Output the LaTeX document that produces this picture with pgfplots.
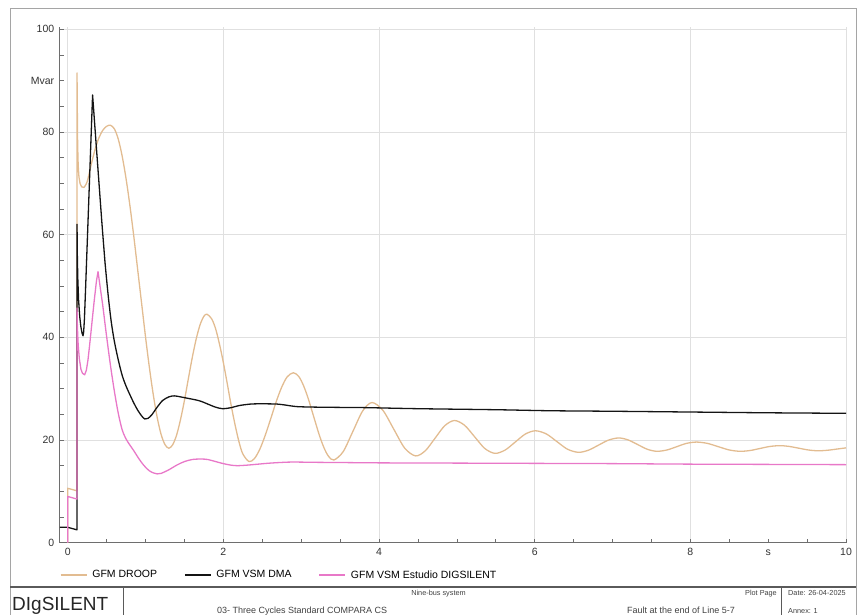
\documentclass[border=0pt]{standalone}
\usepackage{fontspec}
\setmainfont{Liberation Sans}
\usepackage{pgfplots}
\pgfplotsset{compat=1.18}
\definecolor{droop}{RGB}{226,188,145}
\definecolor{vsm}{RGB}{20,20,20}
\definecolor{dig}{RGB}{232,120,200}
\definecolor{gridc}{RGB}{224,224,224}
\definecolor{axc}{RGB}{110,110,110}
\definecolor{framec}{RGB}{165,165,165}
\definecolor{footc}{RGB}{90,90,90}
\begin{document}
\begin{tikzpicture}[x=1pt,y=1pt]
\useasboundingbox (0,0) rectangle (857,615);
\draw[framec, line width=1pt] (10,0) -- (10,606) -- (856,606) -- (856,0);
\draw[footc, line width=1.4pt] (10,28) -- (856,28);
\draw[footc, line width=1pt] (123.3,28) -- (123.3,0);
\draw[footc, line width=1pt] (781.7,28) -- (781.7,0);
\begin{axis}[
  at={(59.9pt,72.3pt)}, anchor=south west,
  scale only axis, width=786.1pt, height=516pt,
  xmin=-0.1, xmax=10, ymin=0, ymax=100.5,
  axis x line*=bottom, axis y line*=left,
  axis line style={-, draw=axc, line width=0.9pt},
  xtick={0,2,4,6,8,10}, ytick={0,20,40,60,80,100},
  minor x tick num=3, minor y tick num=3,
  extra x ticks={9}, extra x tick labels={s},
  extra y ticks={90}, extra y tick labels={Mvar},
  extra x tick style={grid=none, major tick length=0pt},
  extra y tick style={grid=none, major tick length=0pt},
  tick align=inside, major tick length=4pt, minor tick length=4pt,
  tick style={draw=axc, line width=0.6pt},
  grid=major, major grid style={draw=gridc, line width=0.8pt},
  /pgf/number format/assume math mode=true,
  tick label style={font=\fontsize{10.5}{12}\selectfont, text=black!80},
  yticklabel style={anchor=east, inner sep=0pt, xshift=-5.5pt},
  xticklabel style={anchor=base, inner sep=0pt, yshift=-13.3pt},
  legend columns=-1,
  legend style={at={(0,0)}, anchor=west, yshift=-32.3pt, draw=none, fill=none,
    inner sep=0pt, font=\fontsize{10.5}{12}\selectfont,
    nodes={inner sep=1pt},
    /tikz/every odd column/.append style={column sep=4pt},
    /tikz/every even column/.append style={column sep=26pt}},
  legend cell align=left,
  legend image code/.code={\draw[#1] (0pt,0pt) -- (26pt,0pt);},
  every axis plot/.append style={line width=1.3pt, line join=round},
]
% GFM DROOP
\addplot[droop] coordinates {(0,0) (0,10.6) (0.12,10.1) (0.12,91.5) (0.124,84) (0.128,77.5) (0.135,73.5) (0.145,71.2) (0.16,69.9) (0.18,69.3) (0.21,69.2)};
\addlegendentry{GFM DROOP}
\addplot[droop, smooth, forget plot] coordinates {(0.21,69.2) (0.25,70.3) (0.3,73.5) (0.35,76.5) (0.4,78.8) (0.45,80.3) (0.5,81.1) (0.55,81.3) (0.6,80.6) (0.65,78.6) (0.7,75.3) (0.75,70.9) (0.8,65.6) (0.85,59.6) (0.9,53.1) (0.95,46.6) (1.0,40.1) (1.05,34.1) (1.1,28.8) (1.15,24.4) (1.2,21.1) (1.25,19.1) (1.3,18.4) (1.35,19.1) (1.4,21.0) (1.45,24.0) (1.5,27.7) (1.55,31.9) (1.6,36.0) (1.65,39.6) (1.7,42.4) (1.75,44.1) (1.79,44.5) (1.85,43.6) (1.9,41.7) (1.95,38.7) (2.0,35.1) (2.05,31.0) (2.1,26.8) (2.15,23.0) (2.2,19.7) (2.25,17.3) (2.33,15.8) (2.4,16.4) (2.47,18.25) (2.54,21.0) (2.61,24.2) (2.68,27.5) (2.75,30.3) (2.82,32.3) (2.9,33.1) (2.97,32.35) (3.03,30.6) (3.09,28.1) (3.16,24.6) (3.23,21.1) (3.29,18.6) (3.35,16.85) (3.42,16.1) (3.54,17.74) (3.665,21.7) (3.79,25.66) (3.91,27.3) (4.05,25.78) (4.19,22.1) (4.33,18.42) (4.47,16.9) (4.595,17.91) (4.72,20.35) (4.845,22.79) (4.97,23.8) (5.10,22.86) (5.23,20.6) (5.36,18.34) (5.49,17.4) (5.62,18.04) (5.75,19.6) (5.88,21.16) (6.01,21.8) (6.15,21.18) (6.285,19.7) (6.42,18.22) (6.56,17.6) (6.69,18.01) (6.82,19.0) (6.95,19.99) (7.08,20.4) (7.2,20.02) (7.325,19.1) (7.45,18.18) (7.57,17.8) (7.7,18.06) (7.825,18.7) (7.95,19.34) (8.08,19.6) (8.22,19.34) (8.36,18.7) (8.5,18.06) (8.64,17.8) (8.77,17.96) (8.895,18.35) (9.02,18.74) (9.15,18.9) (9.27,18.75) (9.395,18.4) (9.52,18.05) (9.64,17.9) (9.76,18.0) (9.88,18.23) (10,18.47)};
% GFM VSM DMA
\addplot[vsm] coordinates {(-0.1,3.0) (0,3.0) (0.12,2.5) (0.12,62) (0.124,56) (0.13,51.5) (0.14,47.3) (0.155,44) (0.17,42) (0.185,40.8) (0.197,40.3) (0.205,41) (0.215,43.5) (0.23,49.5) (0.32,87.2) (0.36,78.8) (0.4,70.5) (0.44,62.2) (0.48,54.5)};
\addlegendentry{GFM VSM DMA}
\addplot[vsm, smooth, forget plot] coordinates {(0.48,54.5) (0.52,48.2) (0.56,43.0) (0.6,39.2) (0.65,35.6) (0.7,32.6) (0.75,30.5) (0.8,28.8) (0.85,27.2) (0.9,25.8) (0.95,24.7) (0.99,24.1) (1.03,24.2) (1.08,24.9) (1.15,26.4) (1.22,27.7) (1.3,28.4) (1.37,28.6) (1.45,28.4) (1.55,28.1) (1.65,27.8) (1.72,27.5) (1.8,27.0) (1.9,26.4) (1.99,26.1) (2.1,26.3) (2.2,26.7) (2.35,27.0) (2.5,27.05) (2.69,27.0) (2.8,26.8) (2.95,26.5) (3.2,26.4) (3.5,26.35) (3.85,26.3) (4.5,26.1) (5.5,25.9) (6.2,25.7) (7,25.6) (8,25.45) (9,25.3) (10,25.2)};
% GFM VSM Estudio DIGSILENT
\addplot[dig] coordinates {(0,0) (0,9.0) (0.12,8.5) (0.12,45.7) (0.125,42) (0.135,38.5) (0.15,35.8) (0.17,33.8) (0.19,33.0) (0.218,32.7) (0.24,33.6) (0.26,35.5) (0.28,38.2) (0.31,42.6) (0.34,47) (0.37,51) (0.39,52.8) (0.42,49.5) (0.45,46.3)};
\addlegendentry{GFM VSM Estudio DIGSILENT}
\addplot[dig, smooth, forget plot] coordinates {(0.45,46.3) (0.5,40.2) (0.55,34.5) (0.6,29.5) (0.65,25.2) (0.7,22.0) (0.75,20.2) (0.8,19.0) (0.85,17.9) (0.9,16.7) (0.95,15.6) (1.0,14.7) (1.05,14.0) (1.1,13.6) (1.15,13.4) (1.2,13.5) (1.3,14.2) (1.4,15.1) (1.5,15.8) (1.6,16.2) (1.71,16.3) (1.8,16.2) (1.9,15.8) (2.0,15.4) (2.1,15.1) (2.18,15.0) (2.3,15.1) (2.45,15.3) (2.6,15.5) (2.86,15.7) (3.2,15.65) (3.6,15.6) (4,15.55) (5,15.5) (6,15.45) (7,15.4) (8,15.3) (9,15.25) (10,15.2)};
\end{axis}
\node[anchor=base west, inner sep=0pt, font=\fontsize{19}{22}\selectfont, text=black!85] at (12,4.3) {DIgSILENT};
\node[anchor=base, inner sep=0pt, font=\fontsize{7.3}{8}\selectfont, text=black!75] at (438.5,19.6) {Nine-bus system};
\node[anchor=base east, inner sep=0pt, font=\fontsize{7.3}{8}\selectfont, text=black!75] at (777,19.6) {Plot Page};
\node[anchor=base west, inner sep=0pt, font=\fontsize{7.3}{8}\selectfont, text=black!75] at (788,19.6) {Date: 26-04-2025};
\node[anchor=base west, inner sep=0pt, font=\fontsize{7.3}{8}\selectfont, text=black!75] at (788,1.5) {Annex: 1};
\node[anchor=base west, inner sep=0pt, font=\fontsize{9}{10}\selectfont, text=black!75] at (217,1.5) {03- Three Cycles Standard COMPARA CS};
\node[anchor=base west, inner sep=0pt, font=\fontsize{9}{10}\selectfont, text=black!75] at (627,1.5) {Fault at the end of Line 5-7};
\end{tikzpicture}
\end{document}
